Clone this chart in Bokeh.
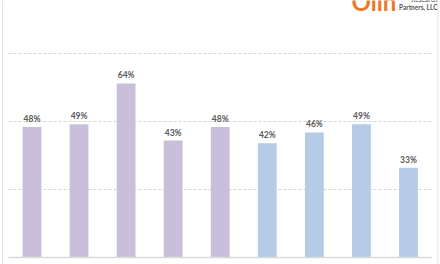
from bokeh.plotting import figure
from bokeh.models import Range1d, ColumnDataSource, Label, Span
from bokeh.core.properties import value
from bokeh.embed import file_html
from bokeh.resources import INLINE

categories = ["A", "B", "C", "D", "E", "F", "G", "H", "I"]
values = [48, 49, 64, 43, 48, 42, 46, 49, 33]
labels = ["48%", "49%", "64%", "43%", "48%", "42%", "46%", "49%", "33%"]
groups = ["g1", "g1", "g1", "g1", "g1", "g2", "g2", "g2", "g2"]
grid_values = [25, 50, 75]

color_map = {"g1": "#cabfda", "g2": "#b6cbe6"}

xs = list(range(len(categories)))
src = ColumnDataSource(dict(
    x=xs, top=values, label=labels,
    color=[color_map[g] for g in groups],
))

p = figure(width=440, height=264, output_backend="svg", toolbar_location=None,
           x_range=Range1d(-0.669, 8.68), y_range=Range1d(-2.57, 94.5),
           min_border=0, outline_line_color=None)
p.axis.visible = False
p.grid.visible = False
p.background_fill_color = "white"

# gridlines
p.segment(x0=[-0.5] * len(grid_values), x1=[len(categories) - 0.5] * len(grid_values),
          y0=grid_values, y1=grid_values, line_color="#d4d4d4", line_width=1, line_dash="3 2")

p.vbar(x="x", top="top", bottom=0, width=0.40, color="color", source=src, line_color=None)

# baseline
p.segment(x0=[-0.5], x1=[len(categories) - 0.5], y0=[0], y1=[0], line_color="#d9d9d9", line_width=1.5)

p.text(x="x", y="top", text="label", source=src, text_align="center", text_baseline="bottom",
       y_offset=-3, text_font=value("Lato"), text_font_style="bold", text_font_size="8.5px",
       text_color="#595959")

# frame lines
p.add_layout(Span(location=-0.627, dimension="height", line_color="#e6e6e6", line_width=1))
p.add_layout(Span(location=8.627, dimension="height", line_color="#e6e6e6", line_width=1))

# logo (partially cropped, as in the reference)
p.add_layout(Label(x=351, y=249, x_units="screen", y_units="screen", text="Olin",
                   text_font="Lato", text_font_style="bold", text_font_size="24px",
                   text_color="#e87a2e"))
p.add_layout(Label(x=437, y=262, x_units="screen", y_units="screen", text="Research",
                   text_font="Lato", text_font_style="bold", text_font_size="6.5px",
                   text_color="#555555", text_align="right"))
p.add_layout(Label(x=437, y=254, x_units="screen", y_units="screen", text="Partners, LLC",
                   text_font="Lato", text_font_style="bold", text_font_size="6.5px",
                   text_color="#555555", text_align="right"))

open("out.html", "w").write(file_html(p, INLINE))
